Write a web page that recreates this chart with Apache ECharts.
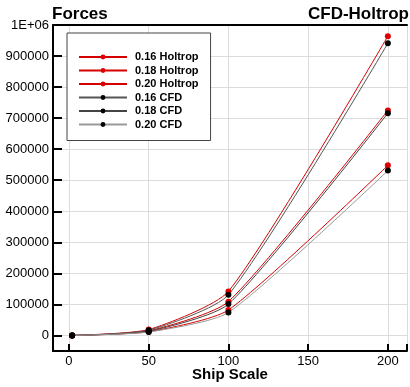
<!DOCTYPE html>
<html>
<head>
<meta charset="utf-8">
<script src="https://cdn.jsdelivr.net/npm/echarts@6/dist/echarts.min.js"></script>
<style>
  html, body { margin: 0; padding: 0; background: #fff; }
  #chart { width: 410px; height: 387px; }
</style>
</head>
<body>
<div id="chart"></div>
<script>
// ship scale (x) and forces per series
const shipScale = [2, 50, 100, 200];
const holtrop016 = [200, 19000, 142000, 964000];
const holtrop018 = [150, 15000, 109000, 725000];
const holtrop020 = [100, 12000, 82000, 548000];
const cfd016 = [200, 17000, 131000, 941000];
const cfd018 = [150, 13500, 101000, 716000];
const cfd020 = [100, 11000, 74000, 531000];

const seriesNames = ['0.16 Holtrop', '0.18 Holtrop', '0.20 Holtrop', '0.16 CFD', '0.18 CFD', '0.20 CFD'];
const seriesValues = [holtrop016, holtrop018, holtrop020, cfd016, cfd018, cfd020];
const lineColors = ['#d40000', '#d40000', '#d40000', '#555555', '#444444', '#999999'];
const dotColors = ['#e00000', '#e00000', '#e00000', '#000000', '#000000', '#000000'];

const font = '"Liberation Sans", Arial, sans-serif';

const chart = echarts.init(document.getElementById('chart'));

const series = seriesNames.map((name, i) => ({
  name: name,
  type: 'line',
  xAxisIndex: 0,
  smooth: 0.2,
  symbol: 'circle',
  symbolSize: 6,
  data: shipScale.map((x, j) => [x, seriesValues[i][j]]),
  lineStyle: { color: lineColors[i], width: 1 },
  itemStyle: { color: dotColors[i] },
}));

chart.setOption({
  animation: false,
  title: [
    {
      text: 'Forces',
      left: 52,
      top: 6,
      padding: 0,
      textStyle: { fontFamily: font, fontWeight: 'bold', fontSize: 17, color: '#000' },
    },
    {
      text: 'CFD-Holtrop',
      right: 1,
      top: 6,
      padding: 0,
      textStyle: { fontFamily: font, fontWeight: 'bold', fontSize: 17, color: '#000' },
    },
  ],
  legend: {
    data: seriesNames,
    orient: 'vertical',
    left: 67,
    top: 33,
    padding: [18, 12, 10, 11],
    itemWidth: 48,
    itemHeight: 6,
    itemGap: 1.5,
    backgroundColor: '#fff',
    borderColor: '#444',
    borderWidth: 1,
    textStyle: { fontFamily: font, fontWeight: 'bold', fontSize: 11, lineHeight: 12, color: '#000', padding: [0, 0, 0, 3] },
  },
  grid: { left: 53, top: 25, right: -4, bottom: 35 },
  xAxis: [
    {
      type: 'value',
      min: -10,
      max: 212,
      minInterval: 50,
      maxInterval: 50,
      name: 'Ship Scale',
      nameLocation: 'middle',
      nameGap: 16,
      nameMoveOverlap: false,
      nameTextStyle: { fontFamily: font, fontWeight: 'bold', fontSize: 15, color: '#000', verticalAlign: 'top' },
      axisLine: { show: true, onZero: false, lineStyle: { color: '#000', width: 2 } },
      axisTick: { show: true, inside: true, length: 7, lineStyle: { color: '#000', width: 2 } },
      axisLabel: {
        margin: 4,
        fontFamily: font,
        fontSize: 13,
        color: '#000',
        formatter: (v) => (v % 50 === 0 ? String(v) : ''),
      },
      splitLine: { lineStyle: { color: '#dcdcdc' } },
    },
    {
      // top frame line
      type: 'value',
      min: -10,
      max: 212,
      position: 'top',
      axisLine: { show: true, onZero: false, lineStyle: { color: '#000', width: 2 } },
      axisTick: { show: false },
      axisLabel: { show: false },
      splitLine: { show: false },
    },
  ],
  yAxis: {
    type: 'value',
    min: -50000,
    max: 1000000,
    minInterval: 100000,
    maxInterval: 100000,
    axisLine: { show: true, onZero: false, lineStyle: { color: '#000', width: 2 } },
    axisTick: { show: true, inside: true, length: 9, lineStyle: { color: '#000', width: 2 } },
    axisLabel: {
      margin: 4,
      fontFamily: font,
      fontSize: 13,
      color: '#000',
      formatter: (v) => (v < 0 ? '' : v === 1000000 ? '1E+06' : String(v)),
    },
    splitLine: { lineStyle: { color: '#dcdcdc' } },
  },
  series: series,
});
</script>
</body>
</html>
